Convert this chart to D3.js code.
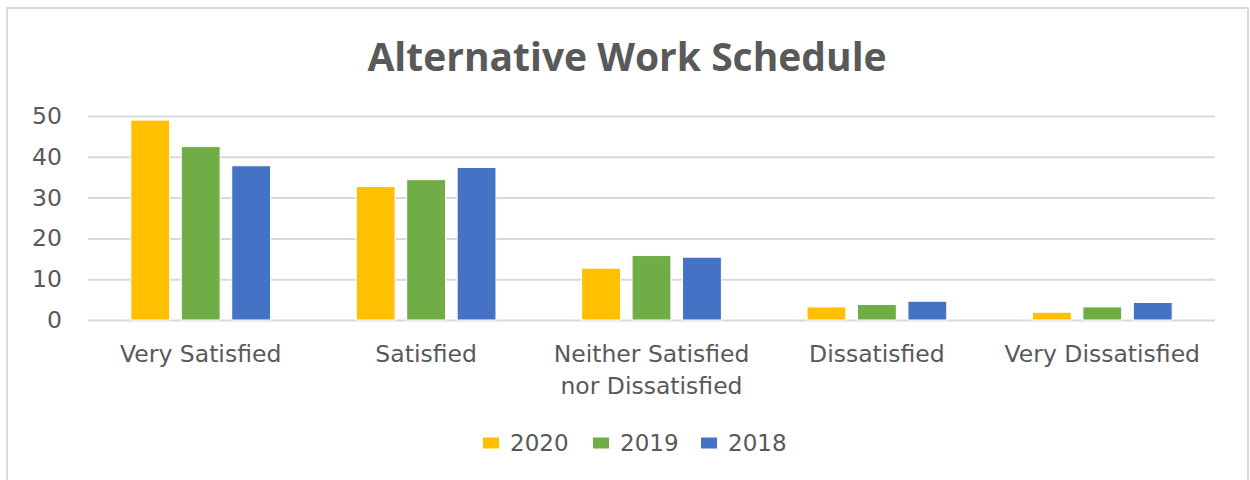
<!DOCTYPE html>
<html>
<head>
<meta charset="utf-8">
<script src="https://cdn.jsdelivr.net/npm/d3@7"></script>
<style>
    body { margin: 0; background: #fff; }
    text { font-family: "DejaVu Sans", sans-serif; fill: #595959; }
</style>
</head>
<body>
<script>
(function () {
    var categories = ['Very Satisfied', 'Satisfied', 'Neither Satisfied nor Dissatisfied', 'Dissatisfied', 'Very Dissatisfied'];
    var seriesNames = ['2020', '2019', '2018'];
    var values2020 = [49.0, 32.7, 12.7, 3.2, 1.9];
    var values2019 = [42.5, 34.4, 15.8, 3.8, 3.2];
    var values2018 = [37.8, 37.4, 15.4, 4.6, 4.3];
    var yTicks = [0, 10, 20, 30, 40, 50];
    var colors = ['#FFC000', '#70AD47', '#4472C4'];

    var seriesValues = [values2020, values2019, values2018];

    // Frame
    var width = 1250,
        height = 480,
        plotLeft = 88,
        plotRight = 1215,
        plotTop = 116,
        plotBottom = 320;

    var svg = d3.select('body')
        .append('svg')
        .attr('width', width)
        .attr('height', height);

    // chart border
    svg.append('rect')
        .attr('x', 7)
        .attr('y', 8)
        .attr('width', 1241)
        .attr('height', 490)
        .attr('fill', '#fff')
        .attr('stroke', '#D9D9D9')
        .attr('stroke-width', 2);

    // Scales
    var xScale = d3.scaleBand()
        .domain(categories)
        .range([plotLeft, plotRight])
        .paddingInner(0.38)
        .paddingOuter(0.19);

    var xInner = d3.scaleBand()
        .domain(seriesNames)
        .range([0, xScale.bandwidth()])
        .paddingInner(0.23);

    var yScale = d3.scaleLinear()
        .domain([0, 50])
        .range([plotBottom, plotTop]);

    // Gridlines + y labels
    var yAxis = d3.axisLeft(yScale)
        .tickValues(yTicks)
        .tickSize(-(plotRight - plotLeft))
        .tickPadding(26);

    var gy = svg.append('g')
        .attr('transform', 'translate(' + plotLeft + ',0)')
        .call(yAxis);
    gy.select('.domain').remove();
    gy.selectAll('line').attr('stroke', '#D9D9D9').attr('stroke-width', 2);
    gy.selectAll('text')
        .style('font-family', '"DejaVu Sans", sans-serif')
        .style('font-size', '23.5px')
        .attr('fill', '#595959');

    // Bars
    var rows = [];
    categories.forEach(function (c, i) {
        seriesNames.forEach(function (s, j) {
            rows.push({ cat: c, series: s, value: seriesValues[j][i], color: colors[j] });
        });
    });

    svg.selectAll('.bars')
        .data(rows)
        .enter()
        .append('rect')
        .attr('class', 'bars')
        .attr('x', function (d) { return xScale(d.cat) + xInner(d.series); })
        .attr('y', function (d) { return yScale(d.value); })
        .attr('width', xInner.bandwidth())
        .attr('height', function (d) { return plotBottom - yScale(d.value); })
        .attr('fill', function (d) { return d.color; })
        .attr('stroke', '#fff')
        .attr('stroke-width', 1);

    // Category labels
    var xAxis = d3.axisBottom(xScale)
        .tickSize(0)
        .tickPadding(25);

    var gx = svg.append('g')
        .attr('transform', 'translate(0,' + plotBottom + ')')
        .call(xAxis);
    gx.select('.domain').remove();
    gx.selectAll('text')
        .style('font-family', '"DejaVu Sans", sans-serif')
        .style('font-size', '23.5px')
        .attr('fill', '#595959')
        .call(wrap, 215);

    // Title
    svg.append('text')
        .attr('x', 627)
        .attr('y', 71)
        .attr('text-anchor', 'middle')
        .style('font-family', '"Open Sans", sans-serif')
        .style('font-size', '39px')
        .style('font-weight', 'bold')
        .text('Alternative Work Schedule');

    // Legend
    var legendX = [483, 593, 701];
    var legend = svg.selectAll('.legend')
        .data(seriesNames)
        .enter()
        .append('g')
        .attr('class', 'legend')
        .attr('transform', function (d, i) { return 'translate(' + legendX[i] + ',443)'; });

    legend.append('rect')
        .attr('x', 0)
        .attr('y', -5.5)
        .attr('width', 16)
        .attr('height', 11)
        .attr('fill', function (d, i) { return colors[i]; });

    legend.append('text')
        .attr('x', 27)
        .attr('dy', '0.36em')
        .style('font-size', '23px')
        .text(function (d) { return d; });

    // Break long labels into lines
    function wrap(texts, maxWidth) {
        texts.each(function () {
            var text = d3.select(this),
                words = text.text().split(/\s+/),
                line = [],
                lineNo = 0,
                y = text.attr('y'),
                dy = parseFloat(text.attr('dy')),
                tspan = text.text(null).append('tspan').attr('x', 0).attr('y', y).attr('dy', dy + 'em');
            words.forEach(function (w) {
                line.push(w);
                tspan.text(line.join(' '));
                if (tspan.node().getComputedTextLength() > maxWidth && line.length > 1) {
                    line.pop();
                    tspan.text(line.join(' '));
                    line = [w];
                    lineNo++;
                    tspan = text.append('tspan')
                        .attr('x', 0)
                        .attr('y', y)
                        .attr('dy', (lineNo * 1.36 + dy) + 'em')
                        .text(w);
                }
            });
        });
    }
})();
</script>
</body>
</html>
